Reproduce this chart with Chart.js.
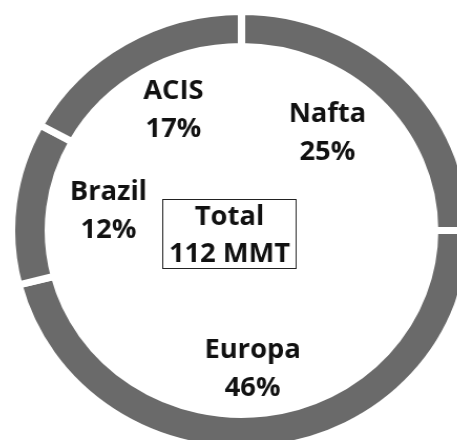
<!DOCTYPE html>
<html>
<head>
<meta charset="utf-8">
<script src="https://cdn.jsdelivr.net/npm/chart.js@4/dist/chart.umd.min.js"></script>
<style>
  html, body { margin: 0; padding: 0; background: #fff; overflow: hidden; width: 457px; height: 440px; }
  #wrap { position: absolute; left: 18.5px; top: 8px; width: 445px; height: 445px;
          transform: scaleX(1.05); transform-origin: 50% 50%; }
</style>
</head>
<body>
<div id="wrap"><canvas id="c" width="445" height="445"></canvas></div>
<script>
// Production share by region (percent of total)
const regions = ['Nafta', 'Europa', 'Brazil', 'ACIS'];
const shares = [25, 46, 12, 17];
const centerLines = ['Total', '112 MMT'];

const FONT = 'bold 26px "Open Sans", Lato, sans-serif';
const LINE_GAP = 38;

// Each label sits near the middle angle of its arc; small per-slice tweaks
// (degrees along the ring, fraction of the outer radius) keep them readable.
const labelTweak = [
  { turn: -5.3, dist: 0.585 },
  { turn: 2.8, dist: 0.627 },
  { turn: 2.4, dist: 0.587 },
  { turn: 2.5, dist: 0.629 }
];

function drawCentered(ctx, text, x, yMid) {
  const capH = ctx.measureText('H').actualBoundingBoxAscent;
  ctx.fillText(text, x, yMid + capH / 2);
}

const sliceLabels = {
  id: 'sliceLabels',
  afterDatasetsDraw(chart) {
    const ctx = chart.ctx;
    const meta = chart.getDatasetMeta(0);
    ctx.save();
    ctx.font = FONT;
    ctx.fillStyle = '#111';
    ctx.textAlign = 'center';
    ctx.textBaseline = 'alphabetic';
    meta.data.forEach((arc, i) => {
      const p = arc.getProps(['x', 'y', 'startAngle', 'endAngle', 'outerRadius'], true);
      const t = labelTweak[i];
      const mid = (p.startAngle + p.endAngle) / 2 + t.turn * Math.PI / 180;
      const r = p.outerRadius * t.dist;
      const cx = p.x + Math.cos(mid) * r;
      const cy = p.y + Math.sin(mid) * r;
      drawCentered(ctx, regions[i], cx, cy - LINE_GAP / 2);
      drawCentered(ctx, shares[i] + '%', cx, cy + LINE_GAP / 2);
    });
    ctx.restore();
  }
};

// Boxed total in the middle of the ring
const centerBox = {
  id: 'centerBox',
  afterDatasetsDraw(chart) {
    const ctx = chart.ctx;
    const arc = chart.getDatasetMeta(0).data[0];
    const cx = arc.x - 11.4;
    const cy = arc.y + 3;
    ctx.save();
    ctx.font = FONT;
    const w = Math.max(...centerLines.map(t => ctx.measureText(t).width)) + 12;
    const h = 69;
    ctx.strokeStyle = '#222';
    ctx.lineWidth = 1;
    ctx.strokeRect(Math.round(cx - w / 2) + 0.5, Math.round(cy - h / 2) + 0.5, Math.round(w), h);
    ctx.fillStyle = '#111';
    ctx.textAlign = 'center';
    ctx.textBaseline = 'alphabetic';
    drawCentered(ctx, centerLines[0], cx, cy - 18.5);
    drawCentered(ctx, centerLines[1], cx, cy + 18.5);
    ctx.restore();
  }
};

new Chart(document.getElementById('c'), {
  type: 'doughnut',
  data: {
    labels: regions,
    datasets: [{
      data: shares,
      backgroundColor: '#6a6a6a',
      borderColor: '#ffffff',
      borderWidth: 7,
      hoverBorderWidth: 7,
      hoverOffset: 0
    }]
  },
  options: {
    responsive: false,
    animation: false,
    events: [],
    cutout: '84%',
    layout: { padding: 0 },
    plugins: { legend: { display: false }, tooltip: { enabled: false } }
  },
  plugins: [sliceLabels, centerBox]
});
</script>
</body>
</html>
